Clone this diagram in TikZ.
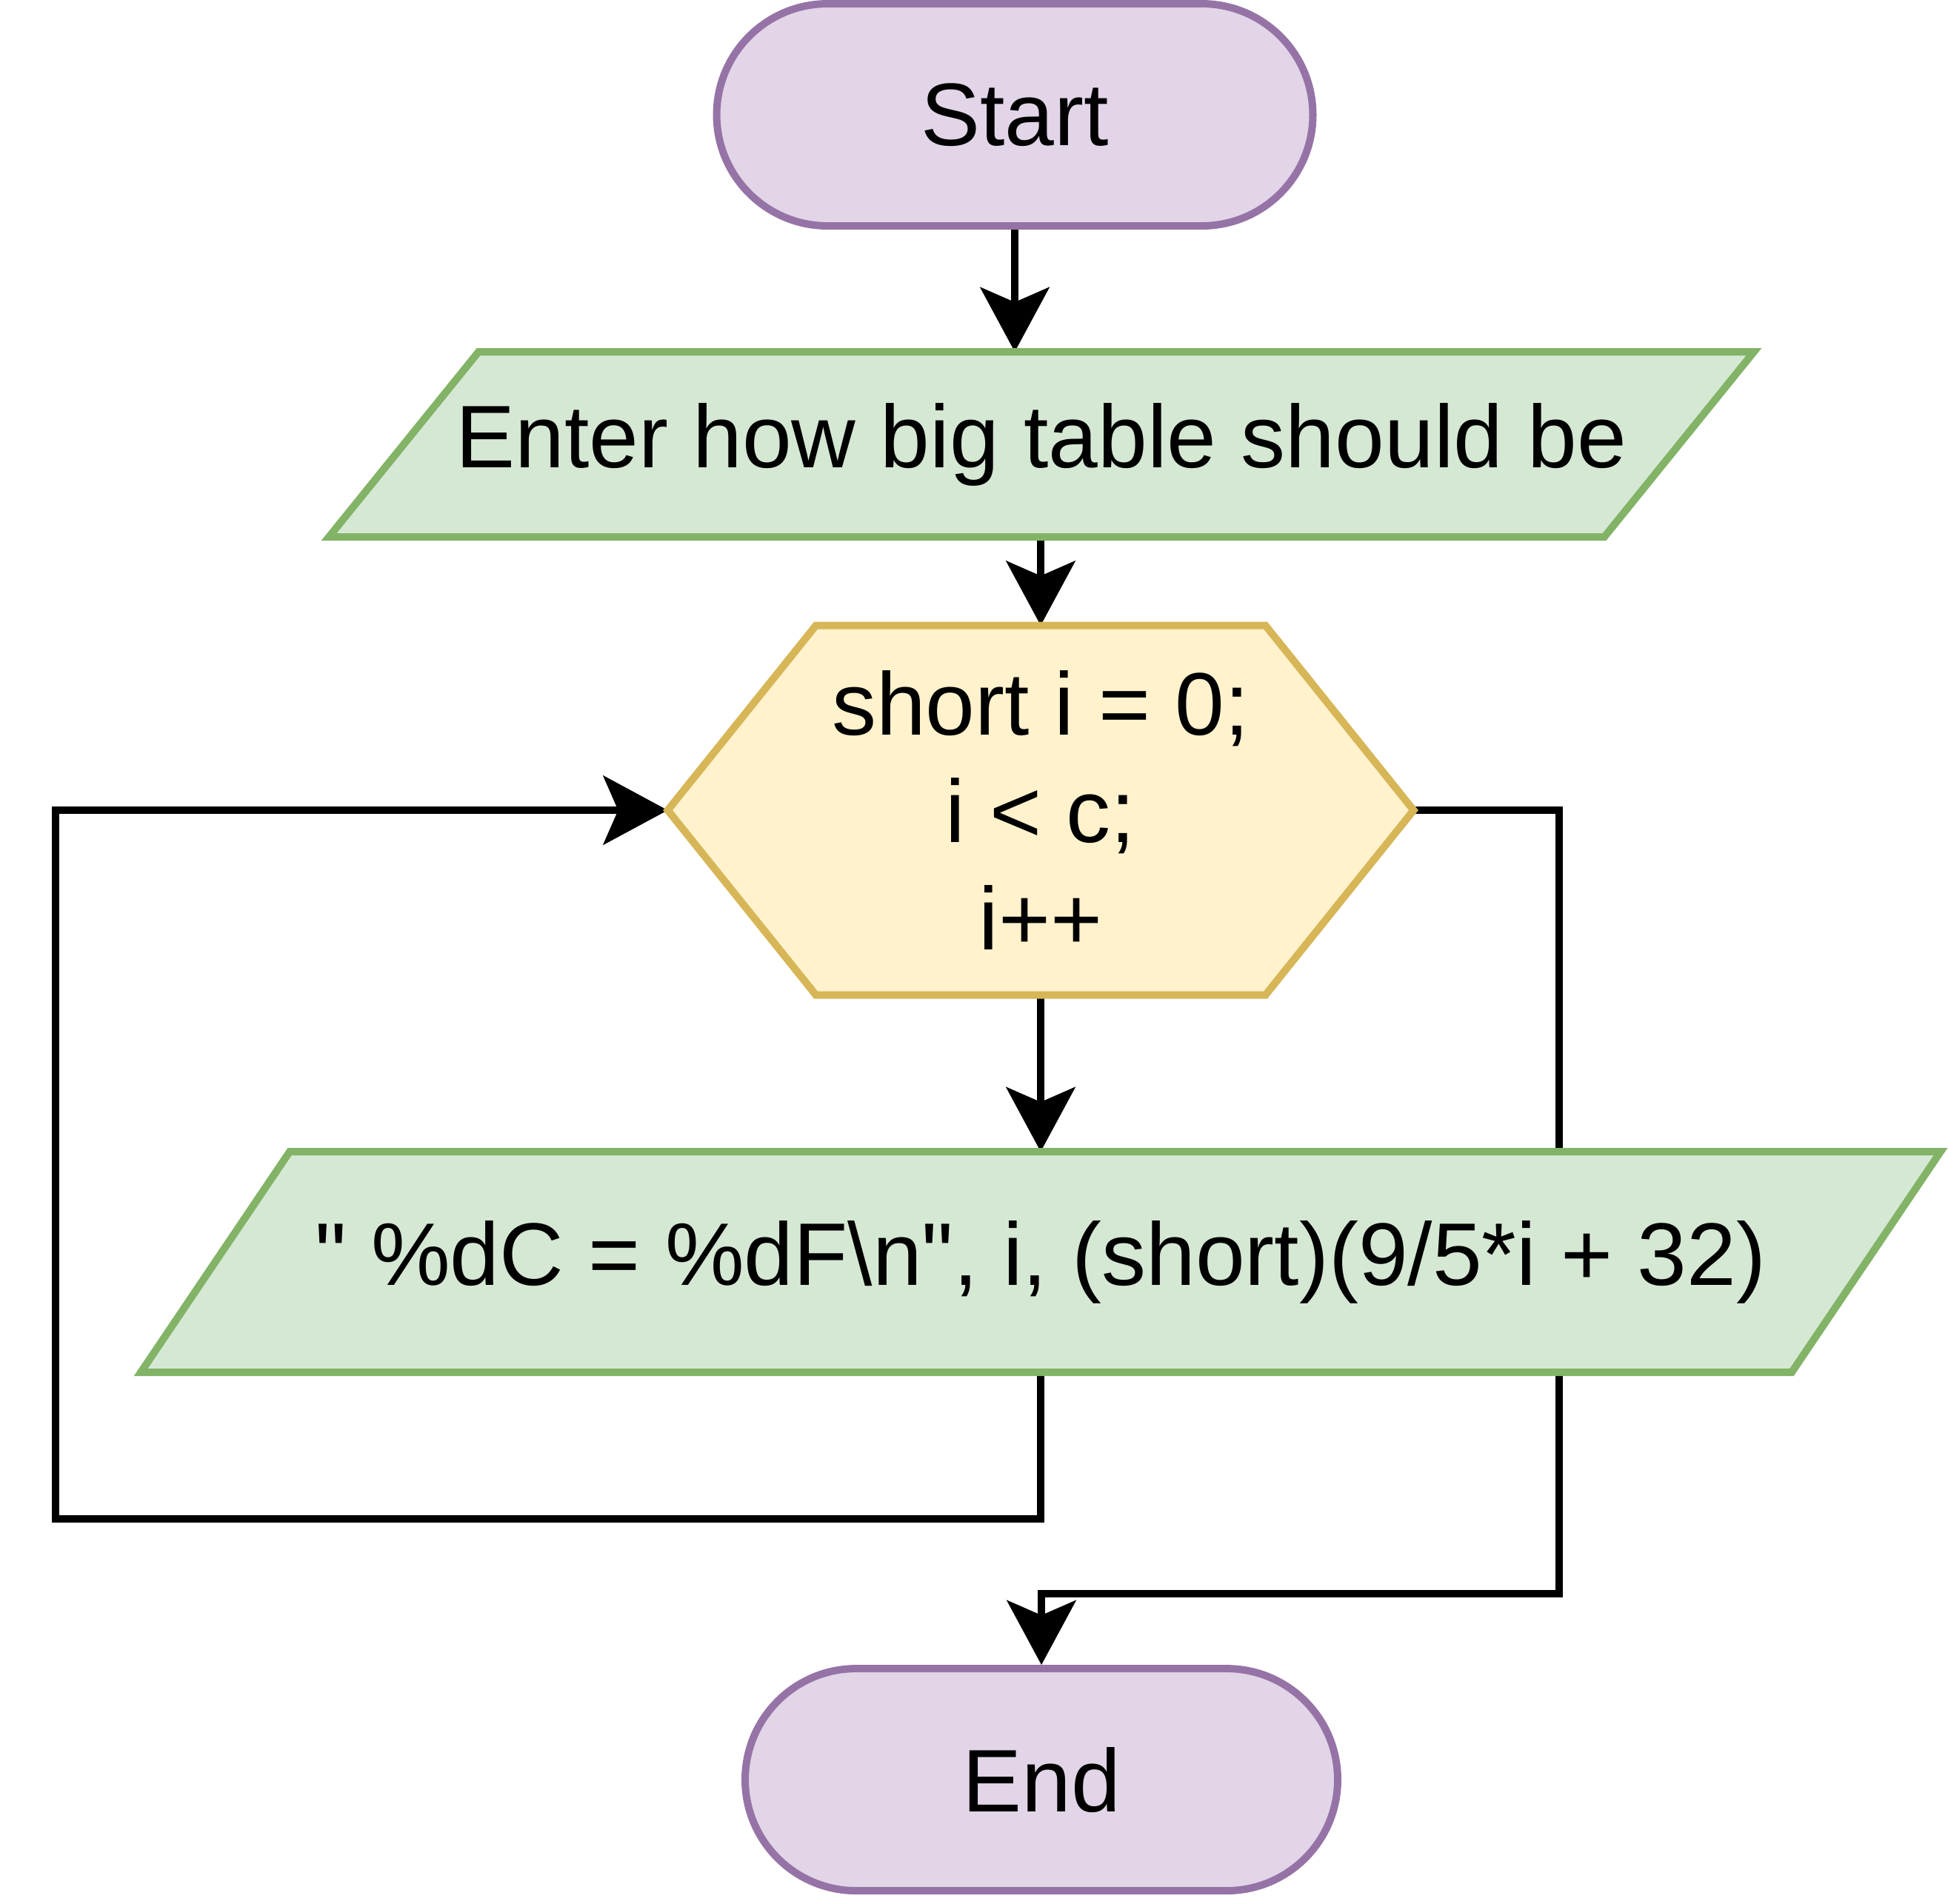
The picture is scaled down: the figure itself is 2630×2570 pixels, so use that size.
\documentclass[tikz,border=0pt]{standalone}
\usepackage{fontspec}
\setmainfont{Liberation Sans}[Ligatures=TeXOff]
\usetikzlibrary{arrows.meta}
\definecolor{termfill}{HTML}{E1D5E7}
\definecolor{termline}{HTML}{9673A6}
\definecolor{iofill}{HTML}{D5E8D4}
\definecolor{ioline}{HTML}{82B366}
\definecolor{loopfill}{HTML}{FFF2CC}
\definecolor{loopline}{HTML}{D6B656}
\pgfdeclarelayer{edges}
\pgfdeclarelayer{shapes}
\pgfsetlayers{edges,shapes,main}

\begin{document}
\begin{tikzpicture}[x=0.1pt,y=-0.1pt,>={Stealth[length=8.7pt,width=9.3pt,inset=2pt]}]
            \tikzstyle{every node} = [font=\fontsize{12}{14.5}\selectfont,line width=1pt];
            \tikzstyle{term} = [rectangle,rounded corners=15pt,fill=termfill,draw=termline,minimum height=30pt];
            \tikzstyle{box} = [rectangle,align=center,inner sep=0pt,outer sep=0pt];
            \tikzstyle{io} = [fill=iofill,draw=ioline,line width=1pt];
            \tikzstyle{flow} = [->,line width=1pt];
            \useasboundingbox (0,0) rectangle (2630,2570);
            \node[term,minimum width=80.5pt] (start) at (1370, 155) {Start};
            \node[box,minimum width=192.4pt,minimum height=25pt] (size) at (1406, 600) {Enter how big table should be};
            \node[box,minimum width=100.7pt,minimum height=49.9pt] (loop) at (1405, 1094) {short i = 0;\\ i < c;\\ i++};
            \node[box,minimum width=243pt,minimum height=29.8pt] (print) at (1405, 1704) {" \%dC = \%dF\textbackslash n", i, (short)(9/5*i + 32)};
            \node[term,minimum width=80pt] (stop) at (1406, 2403) {End};
            \coordinate (back) at (75, 2051);
            \coordinate (exit) at (2105, 2152);
            \begin{pgfonlayer}{shapes}
            \draw[io] (size.south west) -- ([xshift=-20.2pt]size.south east) -- (size.north east) -- ([xshift=20.2pt]size.north west) -- cycle;
            \draw[fill=loopfill,draw=loopline,line width=1pt] (loop.west) -- ([xshift=20pt]loop.north west) -- ([xshift=-20pt]loop.north east) -- (loop.east) -- ([xshift=-20pt]loop.south east) -- ([xshift=20pt]loop.south west) -- cycle;
            \draw[io] (print.south west) -- ([xshift=-20.1pt]print.south east) -- (print.north east) -- ([xshift=20.1pt]print.north west) -- cycle;
            \end{pgfonlayer}
            \begin{pgfonlayer}{edges}
            \draw[flow] (start) -- (start |- size.north);
            \draw[flow] (loop.north |- size.south) -- (loop.north);
            \draw[flow] (loop.south) -- (loop.south |- print.north);
            \draw[flow] (print.south) |- (back) |- (loop.west);
            \draw[flow] (loop.east) -| (exit) -| (stop.north);
            \end{pgfonlayer}
        \end{tikzpicture}
\end{document}
